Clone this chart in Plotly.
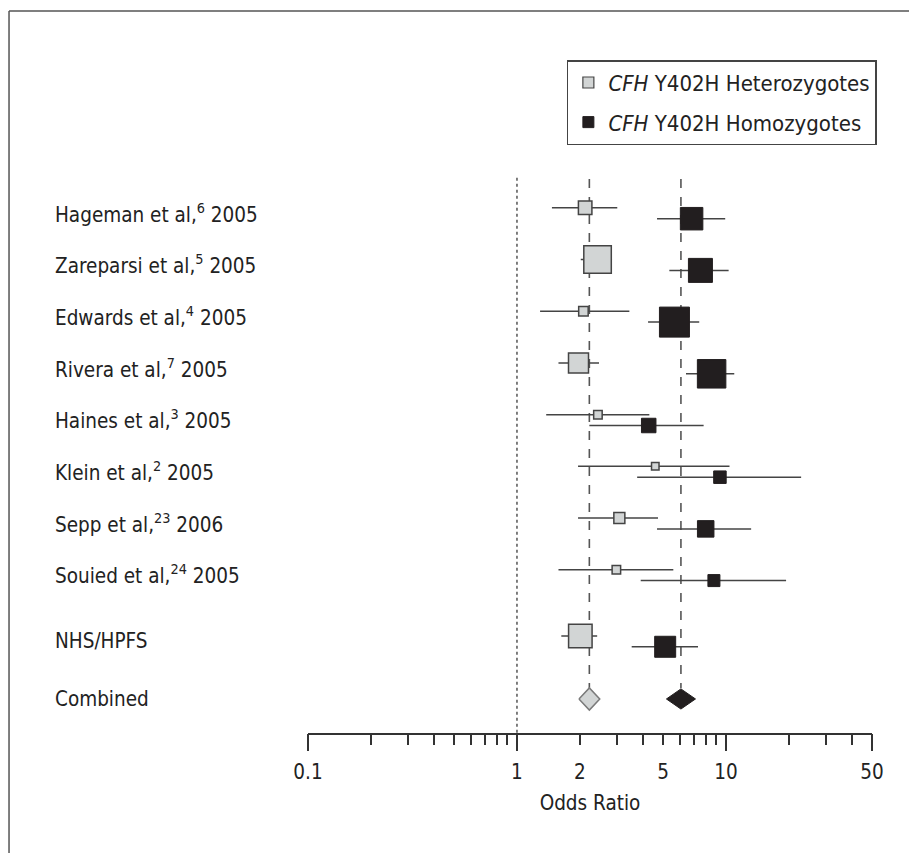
import plotly.graph_objects as go

# ---------------- data ----------------
studies = ["Hageman et al,<sup>6</sup> 2005", "Zareparsi et al,<sup>5</sup> 2005",
           "Edwards et al,<sup>4</sup> 2005", "Rivera et al,<sup>7</sup> 2005",
           "Haines et al,<sup>3</sup> 2005", "Klein et al,<sup>2</sup> 2005",
           "Sepp et al,<sup>23</sup> 2006", "Souied et al,<sup>24</sup> 2005",
           "NHS/HPFS"]
combined_label = "Combined"

het_or = [2.12, 2.43, 2.08, 1.97, 2.44, 4.59, 3.09, 2.99, 2.01]
het_lo = [1.47, 2.02, 1.29, 1.58, 1.38, 1.96, 1.96, 1.58, 1.63]
het_hi = [3.02, 2.85, 3.45, 2.47, 4.30, 10.4, 4.73, 5.60, 2.42]

hom_or = [6.85, 7.55, 5.67, 8.54, 4.27, 9.36, 8.00, 8.76, 5.12]
hom_lo = [4.68, 5.36, 4.24, 6.44, 2.22, 3.76, 4.68, 3.91, 3.54]
hom_hi = [9.92, 10.3, 7.45, 10.96, 7.82, 22.9, 13.2, 19.4, 7.35]

het_comb = 2.22
het_comb_lo = 1.98
het_comb_hi = 2.49
hom_comb = 6.09
hom_comb_lo = 5.19
hom_comb_hi = 7.15

null_or = 1

label_ticks = [0.1, 1, 2, 5, 10, 50]
label_text = ["0.1", "1", "2", "5", "10", "50"]
minor_ticks = [0.2, 0.3, 0.4, 0.5, 0.6, 0.7, 0.8, 0.9, 3, 4, 6, 7, 8, 9, 20, 30, 40]
long_ticks = [0.1, 1, 10, 50]

# ---------------- style / layout ----------------
het_px = [13.5, 27.5, 9.5, 20, 8.5, 7.5, 11, 8.5, 23.5]      # marker side (weights)
hom_px = [22.5, 24, 30, 28.5, 14.5, 12.5, 16.5, 12, 21]
row_pos = [0, 1, 2, 3, 4, 5, 6, 7, 8.28]
comb_row = 9.4
het_dy = -0.1
hom_dy = 0.11

FONT = "DejaVu Sans Condensed, sans-serif"
FS = 20.5
HET_FILL = "#d2d5d5"
HOM_FILL = "#221e1f"
LINE = "#444444"
TXT = "#222222"

fig = go.Figure()

# heterozygotes
fig.add_trace(go.Scatter(
    x=het_or, y=[r + het_dy for r in row_pos], mode="markers", showlegend=False,
    marker=dict(symbol="square", size=het_px, color=HET_FILL, opacity=1,
                line=dict(color=LINE, width=1.5)),
    error_x=dict(type="data", symmetric=False,
                 array=[h - o for h, o in zip(het_hi, het_or)],
                 arrayminus=[o - l for o, l in zip(het_or, het_lo)],
                 color=LINE, thickness=1.5, width=0),
    hoverinfo="x"))

# homozygotes
fig.add_trace(go.Scatter(
    x=hom_or, y=[r + hom_dy for r in row_pos], mode="markers", showlegend=False,
    marker=dict(symbol="square", size=hom_px, color=HOM_FILL, opacity=1,
                line=dict(color=HOM_FILL, width=1)),
    error_x=dict(type="data", symmetric=False,
                 array=[h - o for h, o in zip(hom_hi, hom_or)],
                 arrayminus=[o - l for o, l in zip(hom_or, hom_lo)],
                 color=LINE, thickness=1.5, width=0),
    hoverinfo="x"))

# combined diamonds
het_h = 0.215
hom_h = 0.195
fig.add_trace(go.Scatter(
    x=[het_comb_lo, het_comb, het_comb_hi, het_comb, het_comb_lo],
    y=[comb_row, comb_row - het_h, comb_row, comb_row + het_h, comb_row],
    mode="lines", fill="toself", fillcolor=HET_FILL,
    line=dict(color="#7a7a7a", width=1.5), showlegend=False, hoverinfo="skip"))
fig.add_trace(go.Scatter(
    x=[hom_comb_lo, hom_comb, hom_comb_hi, hom_comb, hom_comb_lo],
    y=[comb_row, comb_row - hom_h, comb_row, comb_row + hom_h, comb_row],
    mode="lines", fill="toself", fillcolor=HOM_FILL,
    line=dict(color=HOM_FILL, width=1), showlegend=False, hoverinfo="skip"))

# legend entries
fig.add_trace(go.Scatter(
    x=[None], y=[None], mode="markers", name="<i>CFH</i> Y402H Heterozygotes",
    legendgroup="a",
    marker=dict(symbol="square", size=11, color=HET_FILL, line=dict(color=LINE, width=1.2))))
fig.add_trace(go.Scatter(
    x=[None], y=[None], mode="markers", name="<i>CFH</i> Y402H Homozygotes",
    legendgroup="b",
    marker=dict(symbol="square", size=11, color=HOM_FILL, line=dict(color=HOM_FILL, width=1))))

# overlay axis for the long ticks
fig.add_trace(go.Scatter(x=[None], y=[None], xaxis="x2", showlegend=False, hoverinfo="skip"))

y_top = -0.832
y_bot = 10.058

shapes = [
    dict(type="line", xref="x", yref="y", x0=null_or, x1=null_or, y0=-0.68, y1=y_bot,
         line=dict(color="#555555", width=1.5, dash="dot"), layer="below"),
    dict(type="line", xref="x", yref="y", x0=het_comb, x1=het_comb, y0=-0.66, y1=9.19,
         line=dict(color="#555555", width=1.6, dash="dash"), layer="below"),
    dict(type="line", xref="x", yref="y", x0=hom_comb, x1=hom_comb, y0=-0.66, y1=9.19,
         line=dict(color="#555555", width=1.6, dash="dash"), layer="below"),
    # figure frame (top and left)
    dict(type="line", xref="paper", yref="paper", x0=-0.5301, x1=1.2, y0=1.2824, y1=1.2824,
         line=dict(color="#555555", width=1.5)),
    dict(type="line", xref="paper", yref="paper", x0=-0.5301, x1=-0.5301, y0=1.2824, y1=-0.3,
         line=dict(color="#555555", width=1.5)),
]

annotations = []
for lab, r in zip(studies, row_pos):
    annotations.append(dict(text=lab, x=-0.4515, xref="paper", y=r, yref="y",
                            xanchor="left", yanchor="middle", showarrow=False,
                            font=dict(family=FONT, size=FS, color=TXT)))
annotations.append(dict(text=combined_label, x=-0.4515, xref="paper", y=comb_row, yref="y",
                        xanchor="left", yanchor="middle", showarrow=False,
                        font=dict(family=FONT, size=FS, color=TXT)))

fig.update_layout(
    width=909, height=845,
    margin=dict(l=300, r=45, t=162, b=120),
    paper_bgcolor="white", plot_bgcolor="white",
    font=dict(family=FONT, size=FS, color=TXT),
    xaxis=dict(type="log", range=[-1, 1.69897], showgrid=False, zeroline=False,
               showline=True, linecolor="#333333", linewidth=1.5,
               tickmode="array", tickvals=label_ticks, ticktext=label_text,
               ticks="outside", ticklen=10, tickwidth=1.5, tickcolor="#333333",
               ticklabelstandoff=10,
               minor=dict(tickmode="array", tickvals=minor_ticks, ticks="outside",
                          ticklen=10, tickwidth=1.5, tickcolor="#333333", showgrid=False),
               tickfont=dict(family=FONT, size=FS, color=TXT),
               title=dict(text="Odds Ratio", standoff=12,
                          font=dict(family=FONT, size=FS, color=TXT))),
    xaxis2=dict(type="log", range=[-1, 1.69897], overlaying="x", anchor="y", side="bottom",
                showgrid=False, zeroline=False, showline=False, showticklabels=False,
                tickmode="array", tickvals=long_ticks,
                ticks="outside", ticklen=17, tickwidth=1.5, tickcolor="#333333"),
    yaxis=dict(range=[y_bot, y_top], visible=False),
    shapes=shapes,
    annotations=annotations,
    legend=dict(x=0.459, y=1.195, xanchor="left", yanchor="top",
                bordercolor="#444444", borderwidth=1.5, bgcolor="white",
                font=dict(family=FONT, size=22, color=TXT),
                tracegroupgap=8, itemwidth=30),
    showlegend=True,
)

fig.write_html("out.html")
